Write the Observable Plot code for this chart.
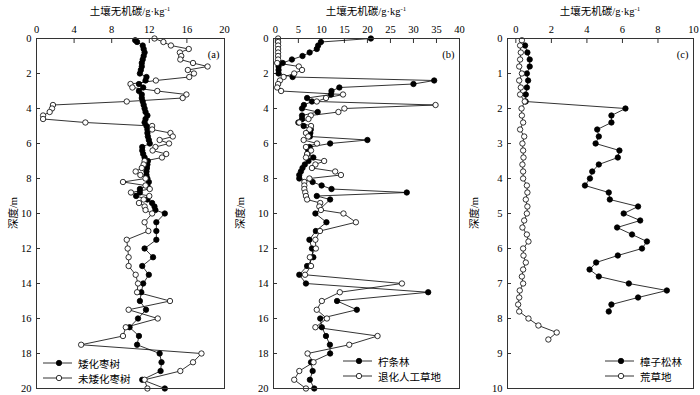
<!DOCTYPE html>
<html><head><meta charset="utf-8">
<script src="https://cdn.jsdelivr.net/npm/d3@7"></script>
<script src="https://cdn.jsdelivr.net/npm/@observablehq/plot@0.6"></script>
<style>
body{margin:0;background:#fff;}
#wrap{position:relative;width:700px;height:395px;background:#fff;overflow:hidden;font-family:"Liberation Serif","Noto Sans CJK SC",serif;font-size:10.5px;color:#000;}
.pan{position:absolute;top:0;}
.title{position:absolute;top:3px;transform:translateX(-50%);white-space:nowrap;font-size:10.5px;}
.title sup{font-size:7px;vertical-align:4px;line-height:0;}
.ylab{position:absolute;top:213px;transform:translate(-50%,-50%) rotate(-90deg);white-space:nowrap;}
.leg{position:absolute;white-space:nowrap;}
.leg svg{position:absolute;left:0;top:0;overflow:visible;}
.leg span{position:absolute;top:-7px;}
</style></head>
<body><div id="wrap"></div>
<script>
// ---------- data ----------
// panel (a)
const aDwarfDepth = [0.1,0.2,0.4,0.6,0.8,1.0,1.2,1.4,1.6,1.8,2.0,2.2,2.4,2.6,2.8,3.0,3.2,3.4,3.6,3.8,4.0,4.2,4.4,4.6,4.8,5.0,5.2,5.4,5.6,5.8,6.0,6.2,6.4,6.6,6.8,7.0,7.2,7.4,7.6,7.8,8.0,8.2,8.4,8.6,8.8,9.0,9.2,9.4,9.6,9.8,10.0,10.5,11,11.5,12,12.5,13,13.5,14,14.5,15,15.5,16,16.5,17,17.5,18,18.5,19,19.5,20];
const aDwarfValue = [10.5,10.7,11.3,11.4,11.5,11.4,11.3,11.2,11.2,11.1,11.0,11.7,11.6,10.9,11.35,10.9,11.2,11.2,11.3,11.4,11.5,11.6,11.8,11.6,11.5,11.7,11.8,11.8,11.85,11.95,12.05,11.25,11.25,11.35,11.5,11.85,11.8,11.75,11.7,11.7,11.8,11.95,11.8,11.0,11.0,10.6,11.8,12.3,12.55,12.65,13.65,12.75,12.75,12.75,11.5,12.4,11.25,11.95,11.35,11.15,11.0,11.65,10.8,9.9,10.9,10.7,13.1,13.3,13.2,11.25,13.65];
const aNormDepth = [0,0.2,0.4,0.6,0.8,1.0,1.2,1.4,1.6,1.8,2.0,2.2,2.4,2.6,2.8,3.0,3.2,3.4,3.6,3.8,4.0,4.2,4.4,4.6,4.8,5.0,5.2,5.4,5.6,5.8,6.0,6.2,6.4,6.6,6.8,7.0,7.2,7.4,7.6,7.8,8.0,8.2,8.4,8.6,8.8,9.0,9.2,9.4,9.6,9.8,10.0,10.5,11,11.5,12,12.5,13,13.5,14,14.5,15,15.5,16,16.5,17,17.5,18,18.5,19,19.5,20];
const aNormValue = [12.55,13.5,14.3,16.2,15.25,15.4,15.3,16.65,18.2,16.1,16.75,16.25,12.7,10.0,10.2,12.85,15.95,15.55,9.6,1.75,1.65,1.4,0.7,0.7,5.2,12.3,12.3,14.25,14.5,13.1,14.1,12.65,12.35,13.8,13.35,11.5,11.4,11.2,10.55,11.05,11.6,9.2,11.6,12.05,10.05,12.0,11.4,10.9,11.5,11.6,12.3,11.5,11.9,9.6,9.7,9.8,9.8,10.55,10.8,10.7,14.2,9.8,12.9,9.5,9.2,4.75,17.55,16.65,15.3,11.5,11.8];
// panel (b)
const bShrubDepth = [0,0.2,0.4,0.6,0.8,1.0,1.2,1.4,1.6,1.8,2.0,2.2,2.4,2.6,2.8,3.0,3.2,3.4,3.6,3.8,4.0,4.2,4.4,4.6,4.8,5.0,5.2,5.4,5.6,5.8,6.0,6.2,6.4,6.6,6.8,7.0,7.2,7.4,7.6,7.8,8.0,8.2,8.4,8.6,8.8,9.0,9.2,10.0,10.5,11,11.5,12,12.5,13,13.5,14,14.5,15,15.5,16,16.5,17,17.5,18,18.5,19,19.5,20];
const bShrubValue = [20.75,9.9,9.3,9.0,7.45,5.9,3.6,1.6,0.7,0.7,0.7,3.75,34.5,30.0,13.9,12.2,12.1,6.9,7.95,6.2,5.8,9.2,5.8,5.8,5.0,6.15,7.7,7.6,7.5,20.0,11.9,7.45,7.15,7.0,8.25,7.2,6.4,5.9,5.55,5.2,5.2,8.1,10.05,12.2,28.55,9.0,11.9,8.7,11.1,8.8,7.4,7.95,8.25,6.9,5.2,6.65,33.2,13.4,17.7,9.75,10.1,11.0,11.85,11.9,7.75,8.1,7.5,8.45];
const bGrassDepth = [0,0.2,0.4,0.6,0.8,1.0,1.2,1.4,1.6,1.8,2.0,2.2,2.4,2.6,2.8,3.0,3.2,3.4,3.6,3.8,4.0,4.2,4.4,4.6,4.8,5.0,5.2,5.4,5.6,5.8,6.0,6.2,6.4,6.6,6.8,7.0,7.2,7.4,7.6,7.8,8.0,8.2,8.4,8.6,8.8,9.0,9.2,9.4,9.6,9.8,10.0,10.5,11,11.5,12,12.5,13,13.5,14,14.5,15,15.5,16,16.5,17,17.5,18,18.5,19,19.5,20];
const bGrassValue = [0.6,0.6,0.6,0.6,0.6,0.6,0.6,0.4,5.1,5.8,4.1,1.8,1.0,0.6,0.4,1.25,14.7,11.0,9.0,34.8,15.0,13.7,7.7,7.2,5.2,7.75,7.4,6.65,7.15,6.15,9.05,6.65,7.75,6.9,6.65,10.6,8.7,7.95,13.0,14.25,7.4,6.3,6.3,6.3,6.5,6.65,6.9,9.75,9.55,9.9,14.8,17.5,9.7,8.7,8.8,7.5,7.75,6.45,27.5,14.0,10.1,9.0,11.2,8.7,22.2,16.05,7.0,8.3,5.2,4.1,6.65];
// panel (c)
const cPineDepth = [0.2,0.4,0.6,0.8,1.0,1.2,1.4,1.6,1.8,2.0,2.2,2.4,2.6,2.8,3.0,3.2,3.4,3.6,3.8,4.0,4.2,4.4,4.6,4.8,5.0,5.2,5.4,5.6,5.8,6.0,6.2,6.4,6.6,6.8,7.0,7.2,7.4,7.6,7.8];
const cPineValue = [0.52,0.65,0.78,0.78,0.62,0.69,0.62,0.56,0.55,6.17,5.38,5.38,4.58,4.67,4.49,5.83,5.74,4.67,4.3,4.17,3.89,5.23,5.29,6.88,6.07,7.0,5.7,6.54,7.38,7.1,5.74,4.52,4.15,4.67,6.36,8.5,6.88,5.38,5.23];
const cWildDepth = [0.05,0.2,0.4,0.6,0.8,1.0,1.2,1.4,1.6,1.8,2.0,2.2,2.4,2.6,2.8,3.0,3.2,3.4,3.6,3.8,4.0,4.2,4.4,4.6,4.8,5.0,5.2,5.4,5.6,5.8,6.0,6.2,6.4,6.6,6.8,7.0,7.2,7.4,7.6,7.8,8.0,8.2,8.4,8.6];
const cWildValue = [0.34,0.24,0.28,0.24,0.19,0.34,0.19,0.28,0.24,0.5,0.32,0.34,0.41,0.24,0.47,0.37,0.41,0.43,0.37,0.41,0.41,0.62,0.65,0.56,0.65,0.62,0.47,0.37,0.62,0.71,0.41,0.43,0.56,0.41,0.34,0.41,0.22,0.19,0.13,0.19,0.71,1.27,2.3,1.83];

const aXTicks = [0,4,8,12,16,20];
const bXTicks = [0,5,10,15,20,25,30,35,40];
const cXTicks = [0,2,4,6,8,10];
const abYTicks = [0,2,4,6,8,10,12,14,16,18,20];
const cYTicks = [0,1,2,3,4,5,6,7,8,9,10];

const aLegend = ["矮化枣树","未矮化枣树"];
const bLegend = ["柠条林","退化人工草地"];
const cLegend = ["樟子松林","荒草地"];
const panelTags = ["(a)","(b)","(c)"];
const xTitle = "土壤无机碳/g·kg";
const yTitle = "深度/m";

// ---------- build ----------
const FONT = '"Liberation Serif","Noto Sans CJK SC",serif';
const zip = (d, v) => d.slice(0, Math.min(d.length, v.length)).map((y, i) => ({y, x: v[i]}));

function panel(o) {
  const filled = zip(o.fd, o.fv), open = zip(o.od, o.ov);
  return Plot.plot({
    width: o.width, height: 395,
    marginTop: 38, marginBottom: 7, marginLeft: o.ml, marginRight: o.mr,
    style: {fontFamily: FONT, fontSize: "10.5px", color: "#000", background: "none", overflow: "visible"},
    x: {domain: o.xd, label: null},
    y: {domain: o.yd, reverse: true, label: null},
    marks: [
      Plot.axisX(o.xt, {anchor: "top", tickSize: 0, tickPadding: 6, label: null}),
      Plot.axisX(o.xt, {anchor: "top", tickSize: -4, tickFormat: () => "", label: null, stroke: "#333"}),
      Plot.axisY(o.yt, {anchor: "left", tickSize: 0, tickPadding: 5, label: null}),
      Plot.axisY(o.yt, {anchor: "left", tickSize: -4, tickFormat: () => "", label: null, stroke: "#333"}),
      Plot.line(filled, {x: "x", y: "y", stroke: "#000", strokeWidth: 0.8}),
      Plot.dot(filled, {x: "x", y: "y", r: 2.7, fill: "#000", stroke: "#000", strokeWidth: 0.8}),
      Plot.line(open, {x: "x", y: "y", stroke: "#000", strokeWidth: 0.8}),
      Plot.dot(open, {x: "x", y: "y", r: 2.7, fill: "#fff", stroke: "#000", strokeWidth: 0.8}),
      Plot.frame({stroke: "#333", strokeWidth: 1}),
      Plot.text([o.tag], {frameAnchor: "top-right", dx: -5, dy: 12, textAnchor: "end", fontSize: 10.5})
    ]
  });
}

const wrap = document.getElementById("wrap");
const specs = [
  {left: 0, width: 232, ml: 36, mr: 8, xd: [0, 20], xt: aXTicks, yd: [0, 20], yt: abYTicks,
   fd: aDwarfDepth, fv: aDwarfValue, od: aNormDepth, ov: aNormValue, tag: panelTags[0], leg: aLegend,
   legX: 43, legY: 363, ylx: 12},
  {left: 230, width: 232, ml: 43, mr: 3, xd: [-0.4, 40], xt: bXTicks, yd: [0, 20], yt: abYTicks,
   fd: bShrubDepth, fv: bShrubValue, od: bGrassDepth, ov: bGrassValue, tag: panelTags[1], leg: bLegend,
   legX: 343, legY: 361, ylx: 239},
  {left: 465, width: 235, ml: 42, mr: 7, xd: [-0.47, 10], xt: cXTicks, yd: [0, 10], yt: cYTicks,
   fd: cPineDepth, fv: cPineValue, od: cWildDepth, ov: cWildValue, tag: panelTags[2], leg: cLegend,
   legX: 605, legY: 361, ylx: 473}
];

for (const s of specs) {
  const div = document.createElement("div");
  div.className = "pan";
  div.style.left = s.left + "px";
  div.appendChild(panel(s));
  wrap.appendChild(div);

  const t = document.createElement("div");
  t.className = "title";
  t.style.left = (s.left + s.ml + (s.width - s.ml - s.mr) / 2) + "px";
  t.innerHTML = xTitle + "<sup>-1</sup>";
  wrap.appendChild(t);

  const yl = document.createElement("div");
  yl.className = "ylab";
  yl.style.left = s.ylx + "px";
  yl.textContent = yTitle;
  wrap.appendChild(yl);

  s.leg.forEach((name, i) => {
    const g = document.createElement("div");
    g.className = "leg";
    g.style.left = s.legX + "px";
    g.style.top = (s.legY + i * 15) + "px";
    g.innerHTML = `<svg width="30" height="1"><line x1="0" x2="29" y1="0" y2="0" stroke="#000" stroke-width="0.8"/>` +
      `<circle cx="16" cy="0" r="2.7" fill="${i === 0 ? "#000" : "#fff"}" stroke="#000" stroke-width="0.8"/></svg>` +
      `<span style="left:35px">${name}</span>`;
    wrap.appendChild(g);
  });
}
</script>
</body></html>
